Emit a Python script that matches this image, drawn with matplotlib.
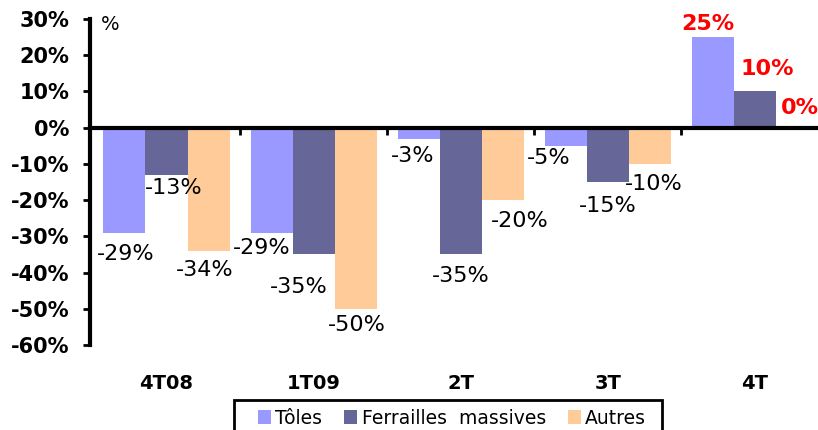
import numpy as np
import matplotlib.pyplot as plt
from matplotlib.patches import Patch, Rectangle
from matplotlib.transforms import blended_transform_factory

# donnees
categories = ["4T08", "1T09", "2T", "3T", "4T"]
series = ["Tôles", "Ferrailles  massives", "Autres"]
toles = [-29, -29, -3, -5, 25]
ferrailles = [-13, -35, -35, -15, 10]
autres = [-34, -50, -20, -10, 0]
yticks = [30, 20, 10, 0, -10, -20, -30, -40, -50, -60]

colors = ["#9999FF", "#666699", "#FFCC99"]
# decalage des etiquettes (pixels) par rapport au bout de la barre
label_nudge = [
    [(1, -21), (-10, -15), (-6, -17), (-17, -12), (-5, 13)],
    [(7, -13), (-15, -33), (0, -22), (0, -24), (12, 22)],
    [(-4, -19), (1, -16), (17, -21), (4, -20), (3, 20)],
]

W, H = 818, 430
fig = plt.figure(figsize=(W / 100, H / 100), dpi=100)
ax = fig.add_axes([90 / W, 1 - 345 / H, (828.5 - 90) / W, (345 - 19) / H])

x = np.arange(len(categories))
bw = 1 / 3.5
for k, vals in enumerate([toles, ferrailles, autres]):
    pos = x + (k - 1) * bw
    ax.bar(pos, vals, width=bw, color=colors[k], zorder=1)
    for i, v in enumerate(vals):
        dx, dy = label_nudge[k][i]
        if categories[i] == "4T":
            ax.annotate(f"{v}%", (pos[i], v), xytext=(dx, dy), textcoords="offset pixels",
                        ha="center", va="center", fontsize=16, fontweight="bold", color="red")
        else:
            ax.annotate(f"{v}%", (pos[i], v), xytext=(dx, dy), textcoords="offset pixels",
                        ha="center", va="center", fontsize=16, color="black")

ax.set_ylim(-60, 30)
ax.set_xlim(-0.52, 4.5)
ax.set_yticks(yticks)
ax.set_yticklabels([f"{t}%" for t in yticks], fontsize=15, fontweight="bold")
ax.set_xticks([0.5, 1.5, 2.5, 3.5])
ax.set_xticklabels([])
ax.tick_params(axis="y", direction="out", length=5, width=2, pad=10)
ax.tick_params(axis="x", direction="out", length=5, width=2)

for s in ["top", "right"]:
    ax.spines[s].set_visible(False)
ax.spines["left"].set_linewidth(3)
ax.spines["bottom"].set_linewidth(3)
ax.spines["bottom"].set_position(("data", 0))
ax.spines["bottom"].set_zorder(3)

trans = blended_transform_factory(ax.transData, ax.transAxes)
for i, c in enumerate(categories):
    ax.text(i, -0.117, c, transform=trans, ha="center", va="center",
            fontsize=14, fontweight="bold")

fig.text(110 / W, 1 - 25 / H, "%", ha="center", va="center", fontsize=14)

# legende (cadre coupe par le bas de l'image)
handles = [Patch(facecolor=colors[k], label=series[k]) for k in range(3)]
leg = fig.legend(handles=handles, loc="upper left", bbox_to_anchor=(250 / W, 1 - 401 / H),
                 ncol=3, fontsize=13.5, frameon=False,
                 handlelength=0.7, handleheight=0.7, handletextpad=0.25,
                 columnspacing=1.15, borderpad=0.4, borderaxespad=0)
fig.patches.append(Rectangle((234 / W, -0.05), (662 - 234) / W, 0.05 + 30 / H,
                             transform=fig.transFigure, fill=False,
                             edgecolor="black", linewidth=2))

fig.savefig("out.png", dpi=100)
